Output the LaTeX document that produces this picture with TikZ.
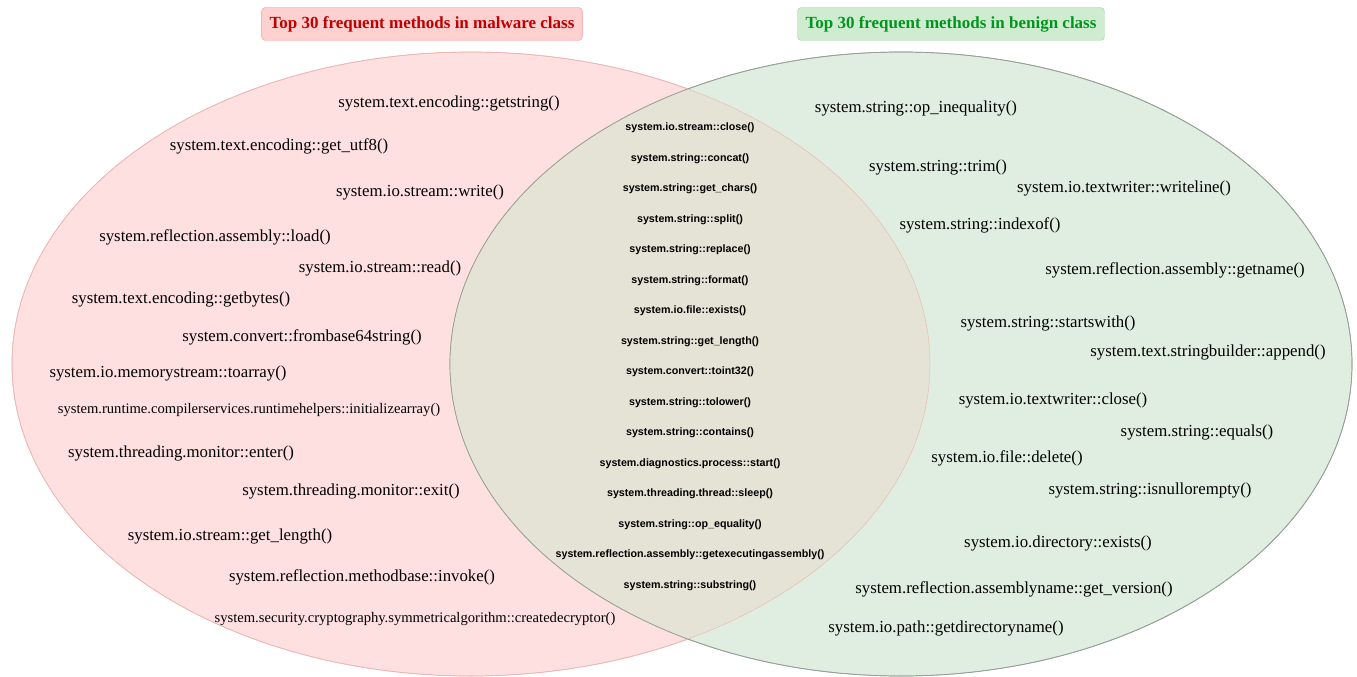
\documentclass[tikz,border=0pt]{standalone}
\usepackage{fontspec}
\setmainfont{Liberation Serif}
\setsansfont{Liberation Sans}
\usepackage{tikz}
\usetikzlibrary{positioning}
\definecolor{malfill}{RGB}{255,224,224}
\definecolor{maledge}{RGB}{238,170,170}
\definecolor{benfill}{RGB}{224,238,226}
\definecolor{benedge}{RGB}{150,158,150}
\definecolor{bothfill}{RGB}{229,227,213}
\definecolor{maltitle}{RGB}{192,0,0}
\definecolor{bentitle}{RGB}{0,150,30}
\tikzset{M/.style={font=\fontsize{16.8}{18}\selectfont,inner sep=0pt}}
\tikzset{Ms/.style={font=\fontsize{14.6}{16}\selectfont,inner sep=0pt}}
\tikzset{C/.style={font=\sffamily\bfseries\fontsize{10.7}{12}\selectfont,inner sep=0pt}}
\tikzset{
head/.style={rounded corners=4pt,minimum height=33pt,inner xsep=8pt,font=\bfseries\fontsize{17}{19}\selectfont},
malhead/.style={head,fill={rgb,255:red,255;green,208;blue,208},draw={rgb,255:red,240;green,150;blue,150},text=maltitle},
benhead/.style={head,fill={rgb,255:red,208;green,236;blue,208},draw={rgb,255:red,160;green,210;blue,160},text=bentitle}
}

\begin{document}
\begin{tikzpicture}[x=1pt,y=-1pt]
\useasboundingbox (0,0) rectangle (1357,677);

% the two sets
\draw[maledge,fill=malfill,line width=0.7pt] (471,364) ellipse [x radius=459pt, y radius=312pt];
\draw[benedge,fill=benfill,line width=0.7pt] (901,364) ellipse [x radius=451pt, y radius=312pt];
\begin{scope}
 \clip (471,364) ellipse [x radius=459pt, y radius=312pt];
 \fill[bothfill] (901,364) ellipse [x radius=451pt, y radius=312pt];
\end{scope}
\draw[maledge!70!bothfill,line width=0.5pt] (471,364) ellipse [x radius=459pt, y radius=312pt];
\draw[benedge,line width=0.7pt] (901,364) ellipse [x radius=451pt, y radius=312pt];

\node[malhead] (malware) at (422,24) {Top 30 frequent methods in malware class};
\node[benhead] (benign) at (951,24) {Top 30 frequent methods in benign class};

% malware only
\node[M] (m1) at (449,103) {system.text.encoding::getstring()};
\node[M] (m2) at (279,146) {system.text.encoding::get\_utf8()};
\node[M] (m3) at (420,192) {system.io.stream::write()};
\node[M] (m4) at (215,237) {system.reflection.assembly::load()};
\node[M] (m5) at (380,268) {system.io.stream::read()};
\node[M] (m6) at (181,299) {system.text.encoding::getbytes()};
\node[M] (m7) at (302,337) {system.convert::frombase64string()};
\node[M] (m8) at (168,373) {system.io.memorystream::toarray()};
\node[Ms] (m9) at (249,410) {system.runtime.compilerservices.runtimehelpers::initializearray()};
\node[M] (m10) at (181,453) {system.threading.monitor::enter()};
\node[M] (m11) at (351,491) {system.threading.monitor::exit()};
\node[M] (m12) at (230,536) {system.io.stream::get\_length()};
\node[M] (m13) at (362,577) {system.reflection.methodbase::invoke()};
\node[Ms] (m14) at (415,619) {system.security.cryptography.symmetricalgorithm::createdecryptor()};

% in both classes
\foreach \t [count=\i] in {system.io.stream::close(),system.string::concat(),
  system.string::get\_chars(),system.string::split(),system.string::replace(),
  system.string::format(),system.io.file::exists(),system.string::get\_length(),
  system.convert::toint32(),system.string::tolower(),system.string::contains(),
  system.diagnostics.process::start(),system.threading.thread::sleep(),
  system.string::op\_equality(),system.reflection.assembly::getexecutingassembly(),
  system.string::substring()}
 {
 \pgfmathsetmacro{\y}{128+30.5*(\i-1)}
 \node[C] (c\i) at (690,\y) {\t};
 }

% benign only
\node[M] (b1) at (916,108) {system.string::op\_inequality()};
\node[M] (b2) at (938,167) {system.string::trim()};
\node[M] (b3) at (1124,188) {system.io.textwriter::writeline()};
\node[M] (b4) at (980,225) {system.string::indexof()};
\node[M] (b5) at (1175,270) {system.reflection.assembly::getname()};
\node[M] (b6) at (1048,323) {system.string::startswith()};
\node[M] (b7) at (1208,352) {system.text.stringbuilder::append()};
\node[M] (b8) at (1053,400) {system.io.textwriter::close()};
\node[M] (b9) at (1197,432) {system.string::equals()};
\node[M] (b10) at (1007,458) {system.io.file::delete()};
\node[M] (b11) at (1150,490) {system.string::isnullorempty()};
\node[M] (b12) at (1058,543) {system.io.directory::exists()};
\node[M] (b13) at (1014,589) {system.reflection.assemblyname::get\_version()};
\node[M] (b14) at (946,628) {system.io.path::getdirectoryname()};

\end{tikzpicture}
\end{document}
